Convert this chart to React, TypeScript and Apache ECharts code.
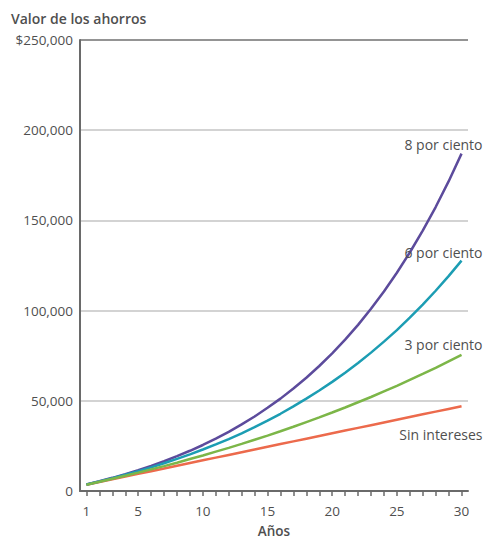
import React, { useEffect, useRef } from "react";
import * as echarts from "echarts";

const years = Array.from({ length: 30 }, (_, i) => String(i + 1));
const seriesNames = ["Sin intereses", "8 por ciento", "6 por ciento", "3 por ciento"];
const sinIntereses = [3500, 5000, 6500, 8000, 9500, 11000, 12500, 14000, 15500, 17000, 18500, 20000, 21500, 23000, 24500, 26000, 27500, 29000, 30500, 32000, 33500, 35000, 36500, 38000, 39500, 41000, 42500, 44000, 45500, 47000];
const ocho = [3600, 5400, 7300, 9300, 11500, 13900, 16500, 19300, 22300, 25500, 29000, 32800, 36900, 41300, 46100, 51200, 56800, 62800, 69300, 76300, 83900, 92100, 101000, 110600, 121000, 132200, 144300, 157400, 171600, 187000];
const seis = [3600, 5300, 7100, 9000, 11000, 13100, 15400, 17800, 20300, 23000, 25800, 28800, 32000, 35400, 39000, 42800, 46900, 51200, 55700, 60500, 65600, 71000, 76700, 82800, 89200, 96100, 103300, 111000, 119100, 127700];
const tres = [3500, 5100, 6800, 8500, 10200, 12000, 13800, 15700, 17700, 19700, 21800, 23900, 26100, 28400, 30700, 33100, 35600, 38200, 40800, 43500, 46300, 49200, 52100, 55200, 58300, 61600, 64900, 68300, 71900, 75500];
const yTicks = [0, 50000, 100000, 150000, 200000, 250000];

const FONT = "'Open Sans', sans-serif";
const TEXT = "#4f4f4f";

function withEndLabel(values: number[], name: string, pos: "top" | "bottom", distance: number) {
  return values.map((v, i) =>
    i === values.length - 1
      ? {
          value: v,
          label: {
            show: true,
            position: pos,
            distance,
            align: "right",
            offset: [21, 0],
            formatter: name,
            color: TEXT,
            fontSize: 14,
            fontFamily: FONT,
          },
        }
      : v
  );
}

function lineSeries(name: string, values: number[], color: string, pos: "top" | "bottom", distance: number, z: number) {
  return {
    name,
    type: "line",
    data: withEndLabel(values, name, pos, distance),
    symbol: "circle",
    symbolSize: 0,
    showSymbol: true,
    lineStyle: { color, width: 2.5 },
    itemStyle: { color },
    label: { show: false },
    emphasis: { disabled: true },
    z,
  };
}

export default function App() {
  const ref = useRef<HTMLDivElement>(null);
  useEffect(() => {
    if (!ref.current) return;
    const chart = echarts.init(ref.current, undefined, { renderer: "svg" });
    chart.setOption({
      animation: false,
      backgroundColor: "#ffffff",
      title: {
        text: "Valor de los ahorros",
        left: 6,
        top: 6,
        textStyle: { fontSize: 14, fontWeight: 600, color: TEXT, fontFamily: FONT },
      },
      grid: { left: 80, right: 15, top: 40, bottom: 46, containLabel: false },
      xAxis: {
        type: "category",
        data: years,
        boundaryGap: true,
        name: "Años",
        nameLocation: "middle",
        nameGap: 33,
        nameTextStyle: { color: TEXT, fontSize: 13.5, fontWeight: 600, fontFamily: FONT },
        axisLine: { show: true, lineStyle: { color: "#6a6a6a", width: 2 } },
        axisTick: { show: true, alignWithLabel: true, interval: 0, length: 5, lineStyle: { color: "#6a6a6a", width: 1.5 } },
        axisLabel: {
          interval: (idx: number, val: string) => val === "1" || Number(val) % 5 === 0,
          color: TEXT,
          fontSize: 13.5,
          fontFamily: FONT,
          margin: 13,
        },
        splitLine: { show: false },
      },
      yAxis: {
        type: "value",
        min: yTicks[0],
        max: yTicks[yTicks.length - 1],
        interval: 50000,
        axisLine: { show: true, lineStyle: { color: "#6a6a6a", width: 2 } },
        axisTick: { show: false },
        axisLabel: {
          color: TEXT,
          fontSize: 13.5,
          fontFamily: FONT,
          margin: 7,
          formatter: (v: number) => {
            const s = v.toLocaleString("en-US");
            return v === 250000 ? "$" + s : s;
          },
        },
        splitLine: {
          show: true,
          lineStyle: { color: ["#cccccc", "#c4c4c4", "#c4c4c4", "#c4c4c4", "#c4c4c4", "#707070"], width: 1.5 },
        },
      },
      series: [
        lineSeries(seriesNames[0], sinIntereses, "#ec6a4c", "bottom", 21, 2),
        lineSeries(seriesNames[1], ocho, "#5c4b9c", "top", 2, 3),
        lineSeries(seriesNames[2], seis, "#1c9db3", "top", 1, 4),
        lineSeries(seriesNames[3], tres, "#7cb648", "top", 3, 5),
      ],
    });
    return () => chart.dispose();
  }, []);
  return (
    <div
      ref={ref}
      style={{ position: "fixed", left: 0, top: 0, width: 483, height: 543 }}
    />
  );
}
